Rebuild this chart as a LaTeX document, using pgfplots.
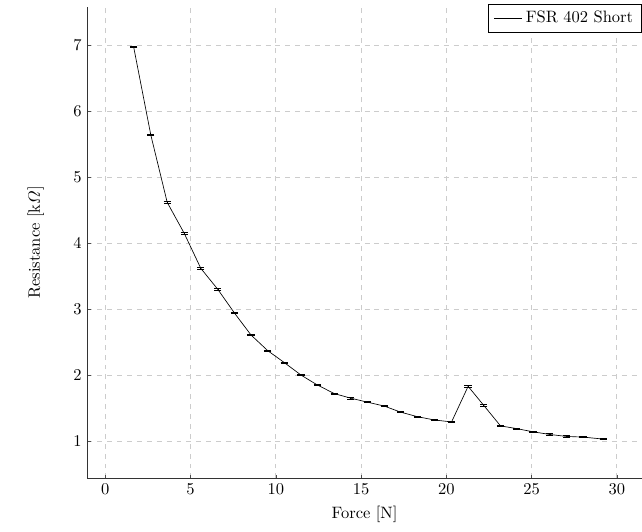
\documentclass[border=0pt]{standalone}
\usepackage{amsmath}
\usepackage{pgfplots}
\pgfplotsset{compat=1.18}
\begin{document}
\begin{tikzpicture}
\begin{axis}[
  scale only axis,
  width=336pt, height=286pt,
  axis lines*=left,
  axis line style={black!80},
  xmin=-1.05, xmax=31.46,
  ymin=0.434, ymax=7.59,
  xtick={0,5,...,30},
  ytick={1,2,...,7},
  major tick length=2pt,
  tick style={black!70},
  grid=major,
  grid style={dashed, black!20},
  xlabel={Force [N]},
  ylabel={Resistance [k$\varOmega$]},
  ylabel shift=11pt,
  legend style={at={(1,1.005)}, anchor=north east, draw=black, font=\normalsize},
  legend cell align=left,
]
\addplot[black, mark=none, error bars/.cd, y dir=both, y explicit, error mark options={rotate=90, mark size=2.2pt, black}]
coordinates {
(1.66,6.98) +- (0,0.01)
(2.67,5.64) +- (0,0.01)
(3.63,4.62) +- (0,0.01)
(4.63,4.15) +- (0,0.01)
(5.60,3.62) +- (0,0.01)
(6.60,3.30) +- (0,0.01)
(7.58,2.94) +- (0,0.01)
(8.54,2.61) +- (0,0.01)
(9.53,2.37) +- (0,0.01)
(10.50,2.19) +- (0,0.01)
(11.48,2.00) +- (0,0.01)
(12.44,1.85) +- (0,0.01)
(13.43,1.72) +- (0,0.01)
(14.40,1.65) +- (0,0.01)
(15.37,1.59) +- (0,0.01)
(16.37,1.53) +- (0,0.01)
(17.30,1.44) +- (0,0.01)
(18.30,1.37) +- (0,0.01)
(19.29,1.32) +- (0,0.01)
(20.31,1.29) +- (0,0.01)
(21.28,1.83) +- (0,0.01)
(22.20,1.54) +- (0,0.01)
(23.18,1.23) +- (0,0.01)
(24.10,1.19) +- (0,0.01)
(25.09,1.14) +- (0,0.01)
(26.07,1.10) +- (0,0.01)
(27.05,1.07) +- (0,0.01)
(28.02,1.06) +- (0,0.01)
(29.20,1.03) +- (0,0.01)
};
\addlegendentry{FSR 402 Short}
\end{axis}
\path (current axis.south west) ++(-53pt,-32pt);
\path (current axis.north east) ++(0,4pt);
\end{tikzpicture}
\end{document}
